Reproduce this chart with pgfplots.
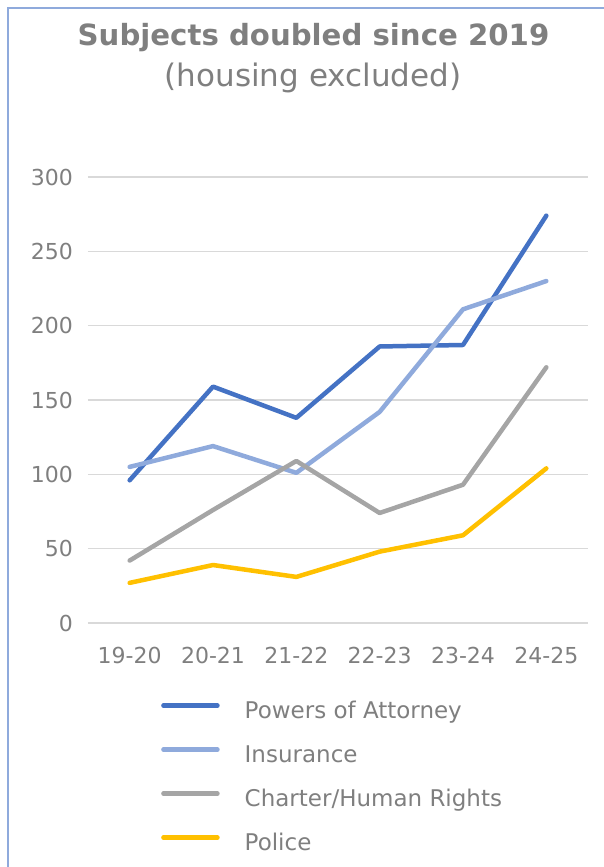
\documentclass[border=0pt]{standalone}
\usepackage{pgfplots}
\pgfplotsset{compat=1.18}
\usepackage{fontspec}
\setmainfont{DejaVu Sans}
\definecolor{cPoA}{HTML}{4472C4}
\definecolor{cIns}{HTML}{8FAADC}
\definecolor{cChr}{HTML}{A5A5A5}
\definecolor{cPol}{HTML}{FFC000}
\definecolor{tgray}{HTML}{7F7F7F}
\definecolor{gridc}{HTML}{D9D9D9}
\definecolor{framec}{HTML}{8FAADC}
\begin{document}
\begin{tikzpicture}
\begin{axis}[
  name=ax,
  at={(0pt,0pt)}, anchor=south west,
  scale only axis, width=500pt, height=446pt,
  xmin=-0.5, xmax=5.5, ymin=0, ymax=300,
  xtick={0,1,2,3,4,5},
  xticklabels={19-20,20-21,21-22,22-23,23-24,24-25},
  ytick={0,50,100,150,200,250,300},
  axis line style={draw=none},
  major tick length=0pt,
  ymajorgrids=true, xmajorgrids=false,
  y grid style={gridc, line width=1.5pt},
  /pgf/number format/assume math mode=true,
  tick label style={text=tgray, font=\fontsize{22}{24}\selectfont},
  yticklabel style={inner sep=0pt, xshift=-15pt},
  xticklabel style={inner sep=0pt, yshift=-24pt},
  every axis plot/.append style={line width=4.5pt, line join=round, line cap=round},
  legend image code/.code={\draw[#1, line cap=round] (2pt,6pt) -- (56pt,6pt);},
  legend style={at={(0.14,-0.168)}, anchor=north west, draw=none, fill=none,
    font=\fontsize{23}{24}\selectfont, text=tgray,
    row sep=21pt, column sep=25pt,
    nodes={inner sep=0pt, text height=18pt, text depth=5pt, anchor=west}},
  legend cell align=left,
]
\addplot[cPoA] coordinates {(0,96) (1,159) (2,138) (3,186) (4,187) (5,274)};
\addlegendentry{Powers of Attorney}
\addplot[cIns] coordinates {(0,105) (1,119) (2,101) (3,142) (4,211) (5,230)};
\addlegendentry{Insurance}
\addplot[cChr] coordinates {(0,42) (1,76) (2,109) (3,74) (4,93) (5,172)};
\addlegendentry{Charter/Human Rights}
\addplot[cPol] coordinates {(0,27) (1,39) (2,31) (3,48) (4,59) (5,104)};
\addlegendentry{Police}
\end{axis}
\begin{scope}[shift={(ax.south west)}, xshift=-88pt, yshift=-244pt, x=1pt, y=1pt]
\pgfresetboundingbox
\path[use as bounding box] (0,0) rectangle (604,867);
\draw[framec, line width=2pt] (8,0) -- (8,859) -- (604,859);
\node[font=\bfseries\fontsize{29.2}{32}\selectfont, text=tgray, anchor=base, inner sep=0pt] at (313.5,821) {Subjects doubled since 2019};
\node[font=\fontsize{31}{34}\selectfont, text=tgray, anchor=base, inner sep=0pt] at (313,780) {(housing excluded)};
\end{scope}
\end{tikzpicture}
\end{document}
